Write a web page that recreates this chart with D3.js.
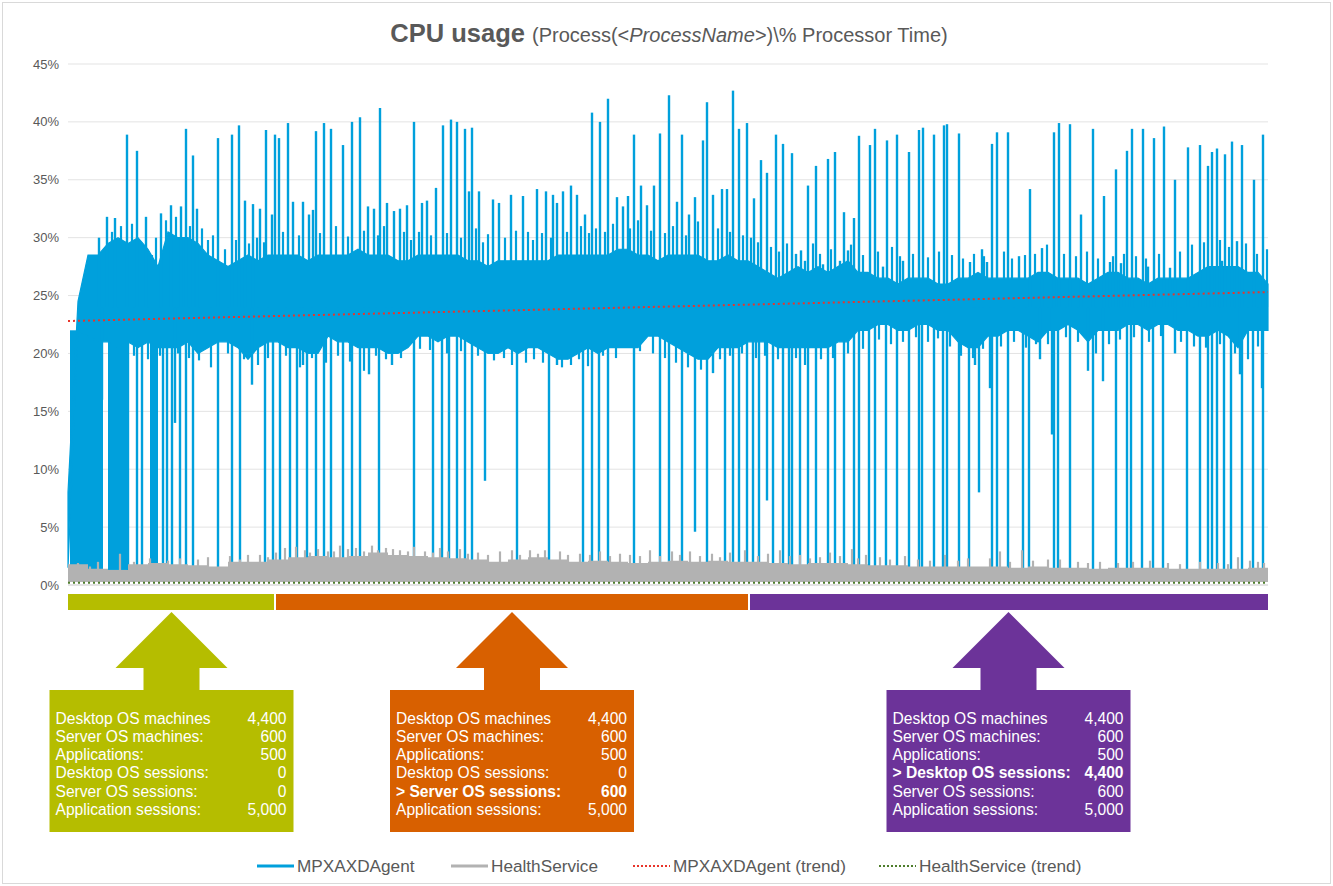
<!DOCTYPE html>
<html>
<head>
<meta charset="utf-8">
<script src="https://cdn.jsdelivr.net/npm/d3@7"></script>
<style>
  body { margin: 0; background: #fff; }
  svg text { font-family: "Liberation Sans", Arial, sans-serif; }
</style>
</head>
<body>
<div id="chart"></div>
<script>
// ---- data (x = sample index 0..1200, values in %) ----
const yTicks = [0, 5, 10, 15, 20, 25, 30, 35, 40, 45];

// dense part of the MPXAXDAgent trace, sampled every 10 samples
const bandHi = [8,24.5,28.5,28.5,29.5,30,29.5,30,29,27.5, 30.5,30,30,29.5,28.5,28,27.5,28,28.5,28,
  28.5,28.5,28.5,28.5,28,28.5,28.5,28.5,28.5,29, 28.5,28.5,28.5,28,28,28.5,28.5,28.5,28.5,28.5,
  28,28,27.5,28,28,28,28,28,28,28.5, 28.5,28.5,28.5,28.5,28.5,29,29,28.5,28.5,28,
  28.5,28.5,28.5,28.5,28,28,28.5,28,28,27.5, 27,26.5,27,27.5,27,27.5,27,27.5,28,27,
  27,26.5,26.5,26,26.5,26.5,26.5,26,26,26.5, 26.5,27,26.5,26.5,26.5,26.5,26.5,27,27,26.5,
  26.5,26.5,26,26.5,27,27,26.5,26.5,26,26.5, 26.5,26.5,26.5,27,27.5,27.5,27.5,27.5,27,27, 26];
const bandLo = [1.5,22,21.5,21,21,20.5,21,20.5,21,20.5, 20.5,20.5,21,20,20.5,21,21,20.5,19.5,20.5,
  21,21,20.5,20.5,20,20,21.5,21,21,20.5, 20.5,20.5,20,20,20.5,21.5,21.5,21,21.5,21.5,
  21,20.5,20,20,20.5,20,20.5,20.5,20,19.5, 19.5,20,20.5,20,20.5,20.5,20.5,20.5,21.5,21.5,
  21,20.5,20,19.5,19.5,20.5,20.5,20.5,21,21, 21,20.5,20.5,20.5,20.5,20.5,20.5,21,21,22,
  22,22.5,22.5,22,22,22.5,22.5,22,22,21, 20.5,20.5,21.5,21.5,22,22,21.5,21,22,22,
  22.5,22,21,22,22,22,22.5,22.5,22,22.5, 22.5,22,22,21.5,21.5,22,21.5,20.5,22,22, 22];

// stretches at the start where the trace fills down to the floor [from, to]
const floorBlocks = [[2, 35], [40, 60], [82, 90]];

// tall upward spikes [sample, value]
const upSpikes = [[31,30],[39,31.8],[47,31.7],[59,38.9],[69,37.5],[78,31.8],[93,32.1],[103,32.8],[113,32.7],[118,39.4],
  [125,37.1],[129,32.5],[150,38.6],[164,38.9],[171,39.7],[177,33.2],[185,32.9],[192,32.5],[198,39.3],[204,32],
  [207,38.9],[211,38.6],[220,39.9],[225,33.1],[235,33.1],[241,32],[245,32.4],[248,39.2],[256,39.9],[263,39.4],
  [275,38],[284,40],[292,40.4],[300,32.7],[306,32.5],[312,41.2],[319,33],[326,32.3],[332,32.5],[339,32.8],
  [346,40],[354,33],[359,33.2],[368,34.3],[375,39.7],[383,40.2],[389,40],[397,39.4],[401,34],[404,39.5],
  [411,34],[425,33.3],[431,33],[443,33.7],[455,33.6],[469,34.2],[478,34],[485,33.7],[489,33],[495,34],
  [503,34.5],[509,33.7],[517,32],[524,40.8],[532,40],[540,42],[549,33.5],[555,32.7],[560,33.6],[566,38.9],
  [573,34.5],[579,32.8],[586,34.5],[592,39],[601,42.3],[609,33.1],[614,38.9],[621,32],[627,33.5],[635,38.4],
  [639,41.7],[645,33.7],[654,34.2],[659,34.2],[665,42.7],[671,39.4],[679,39.9],[686,33.4],[693,36.7],[699,35.6],
  [708,38.9],[715,38.1],[724,37.3],[728,28.6],[733,28.9],[737,28],[740,34.5],[748,36.2],[755,27.7],[760,36.8],
  [767,37.4],[772,28],[776,32.2],[780,28.9],[786,31.7],[791,38.8],[802,38],[807,39.4],[815,27.5],[819,38.4],
  [829,38.9],[835,28],[841,37.4],[851,39.3],[855,39.5],[866,38.9],[876,39.7],[879,39.8],[891,39],[902,27.9],
  [914,29],[919,27.9],[924,38.1],[929,39.1],[940,39.1],[951,28.4],[962,34.2],[974,29.1],[986,39.1],[991,39.9],
  [1002,39.8],[1013,32],[1025,39.4],[1036,33.6],[1042,27.9],[1048,35.9],[1053,27.8],[1059,37.5],[1064,39.4],[1075,39.4],
  [1080,27.5],[1086,38.6],[1096,39.6],[1102,27.4],[1107,35],[1120,37.8],[1132,38],[1140,36.2],[1144,37.4],[1149,37.7],
  [1154,28],[1157,37.2],[1164,38.3],[1169,29.7],[1174,38],[1186,35],[1195,38.9]];

// small ragged peaks above the dense band [sample, value]
const upJags = [[44,30.5],[53,31],[64,31.2],[84,28.5],[88,30],[98,31.5],[108,31.8],[122,31],[134,30.8],[140,29.8],
  [145,30.2],[157,29],[168,29.8],[181,29.5],[189,30],[196,29.6],[215,30.5],[231,30.2],[252,30.4],[268,31],
  [280,30.1],[296,30.6],[310,30.2],[316,31],[336,30.5],[343,29.8],[351,30.5],[363,30.2],[379,30.4],[393,30],
  [408,30.8],[415,29.6],[420,30.3],[437,30],[448,30.6],[460,30.5],[465,29.8],[474,30.4],[483,30],[499,30.5],
  [513,31],[521,30.4],[528,30.8],[537,30.5],[545,31.2],[562,30.8],[570,31.5],[583,30.6],[597,30.4],[605,31],
  [618,30.2],[630,31.4],[650,30.8],[662,30.5],[675,30.2],[683,30],[690,29.6],[703,29.2],[711,28.8],[719,29.5],
  [745,29.5],[752,28.6],[763,29],[783,29.4],[795,28.5],[810,28.8],[824,29.2],[832,28.4],[845,28.6],[860,28.3],
  [871,28.8],[884,28.5],[895,28.2],[906,28.6],[916,28.4],[936,28.8],[944,28.2],[957,28.5],[967,28.6],[979,29.4],
  [996,28.6],[1008,28.4],[1019,28.8],[1030,28.2],[1045,28.4],[1056,28.6],[1068,28.4],[1078,28.2],[1091,28.6],[1112,28.8],
  [1124,29.4],[1136,29.6],[1152,29.8],[1161,29.2],[1178,29.5],[1189,28.6],[1199,29]];

// downward spikes and dips [sample, value]
const downSpikes = [[34,16],[60,1.2],[69,1.2],[74,1.2],[95,1.2],[99,1.2],[104,1.2],[107,14],[112,1.2],[118,1.2],
  [125,1.2],[150,1.2],[164,1.2],[172,1.2],[184,17.3],[197,1.2],[205,1.2],[212,1.2],[222,1.2],[229,1.2],
  [235,19],[239,1.2],[248,1.2],[256,1.2],[263,1.2],[275,1.2],[284,1.2],[292,1.2],[301,18.2],[311,1.2],
  [324,19],[346,1.2],[365,1.2],[374,1.2],[381,1.2],[389,1.2],[397,1.2],[404,1.2],[417,9],[449,1.2],
  [481,1.2],[489,19],[515,1.2],[524,1.2],[531,1.2],[540,1.2],[566,1.2],[592,1.2],[601,1.2],[614,1.2],
  [627,4.6],[639,1.2],[645,18.3],[657,1.2],[665,1.2],[671,1.2],[679,1.2],[685,1.2],[691,1.2],[699,7.3],
  [705,1.2],[715,1.2],[721,1.2],[724,1.2],[732,1.2],[740,1.2],[748,1.2],[760,1.2],[767,1.2],[776,1.2],
  [786,1.2],[791,1.2],[801,1.2],[807,1.2],[818,1.2],[829,1.2],[841,1.2],[851,1.2],[854,1.2],[866,1.2],
  [875,1.2],[879,1.2],[891,1.2],[901,1.2],[907,19],[911,8],[922,17],[924,1.2],[929,1.2],[940,1.2],
  [955,1.2],[961,1.2],[972,19.5],[984,13],[986,1.2],[990,1.2],[1002,1.2],[1020,18.5],[1025,1.2],[1035,17.6],
  [1048,1.2],[1059,1.2],[1063,1.2],[1074,1.2],[1085,1.2],[1095,1.2],[1107,20],[1119,1.2],[1132,1.2],[1140,1.2],
  [1144,1.2],[1149,1.2],[1156,1.2],[1163,1.2],[1172,18.2],[1174,1.2],[1185,1.2],[1194,17],[1195,1.2]];

// small ragged dips below the dense band [sample, value]
const downJags = [[45,19.5],[50,20],[66,19.8],[80,19.5],[92,19.8],[110,20],[121,19.6],[131,19.4],[143,18.8],[160,20],
  [176,19.5],[190,19],[200,19.6],[218,19.8],[232,18.8],[244,19.6],[258,19.2],[270,19.8],[282,19.3],[296,18.5],
  [308,19.8],[318,19.5],[333,19.6],[352,20.4],[362,20.3],[379,20],[393,20.2],[410,19.8],[426,19.4],[436,19.6],
  [444,19],[458,19.2],[466,19.5],[475,19.2],[494,18.8],[503,19],[511,19.5],[520,18.9],[535,19.8],[548,19.6],
  [558,20.5],[572,20.2],[585,20],[597,19.6],[608,19.2],[620,18.8],[633,18.6],[652,19.5],[662,19.8],[674,20],
  [688,19.6],[697,19.8],[710,19.5],[728,19.6],[737,19],[753,19.5],[765,19.6],[780,20],[795,20.4],[811,21.2],
  [823,20.8],[835,21],[848,21.4],[860,21],[870,21.3],[882,20.6],[893,19.8],[905,19.6],[915,20.4],[933,20.6],
  [946,21],[958,20.5],[968,20.8],[980,20.8],[998,21.4],[1010,21],[1028,20],[1041,20.8],[1052,21.2],[1066,21.4],
  [1081,21],[1093,21.5],[1113,21],[1126,20.6],[1138,20.5],[1152,20.8],[1167,20],[1180,19.5],[1190,20.6]];

// HealthService, top of the trace every 20 samples, plus its teeth
const healthHi = [1.8,1.4,1.3,1.8,1.9,1.8,1.7,1.6,2.0,2.0, 2.2,2.4,2.5,2.4,2.5,2.8,2.6,2.5,2.4,2.3,
  2.2,2.0,2.2,2.4,2.2,2.0,2.1,2.0,1.9,2.0, 2.1,2.0,2.1,2.0,2.0,1.9,1.8,1.9,1.9,1.8,
  1.7,1.7,1.6,1.6,1.6,1.6,1.6,1.5,1.6,1.5, 1.5,1.4,1.5,1.5,1.5,1.4,1.4,1.4,1.4,1.5, 1.3];
const healthSpikes = [[10,1.9],[22,1.6],[30,2.0],[52,2.7],[66,2.0],[82,2.3],[100,2.1],[112,2.3],[130,2.2],[140,2.4],
  [162,2.5],[172,2.2],[180,2.6],[192,2.6],[200,2.4],[208,2.8],[217,3.2],[228,3.3],[237,3.0],[242,2.8],
  [250,3.1],[260,2.9],[266,2.9],[272,3.4],[280,3.1],[288,3.2],[296,2.9],[304,3.4],[310,3.0],[318,3.2],
  [325,3.1],[332,3.0],[340,2.9],[346,3.3],[357,2.9],[365,2.8],[372,3.2],[380,2.9],[392,3.1],[400,2.7],
  [410,2.8],[420,2.6],[432,2.9],[444,3.0],[452,2.6],[462,3.0],[470,2.7],[477,3.0],[492,2.9],[500,2.6],
  [512,2.7],[522,2.6],[532,2.9],[542,2.5],[552,2.7],[562,2.6],[572,2.5],[582,3.0],[592,2.5],[604,2.9],
  [612,2.6],[622,2.9],[632,2.5],[644,2.7],[652,2.4],[662,2.8],[677,3.0],[690,2.5],[700,2.7],[712,3.0],
  [722,2.5],[732,2.6],[742,2.3],[752,2.4],[762,2.8],[772,2.5],[784,3.1],[790,2.3],[798,2.6],[812,2.4],
  [822,2.2],[837,2.5],[850,2.2],[862,2.1],[877,2.6],[890,2.1],[900,2.3],[922,2.3],[932,2.9],[942,2.0],
  [954,3.0],[965,2.1],[980,2.2],[992,2.2],[1010,2.0],[1020,1.9],[1032,2.0],[1050,1.9],[1065,2.0],[1082,2.1],
  [1100,1.9],[1112,1.8],[1132,2.0],[1150,1.9],[1160,1.8],[1170,2.4],[1182,2.1],[1190,2.0],[1196,1.9]];
const healthFloor = 0.25;

// linear trends [start, end]
const agentTrend = [22.8, 25.3];
const healthTrend = [0.2, 0.2];

// test phases
const phaseStart = [0, 207, 681];
const phaseEnd = [207, 681, 1200];
const phaseColors = ["#b5bd00", "#d86000", "#6c3399"];
const rowLabels = ["Desktop OS machines", "Server OS machines:", "Applications:",
  "Desktop OS sessions:", "Server OS sessions:", "Application sessions:"];
const phaseValues = [
  [4400, 600, 500, 0, 0, 5000],
  [4400, 600, 500, 0, 600, 5000],
  [4400, 600, 500, 4400, 600, 5000]
];
const phaseHighlight = [-1, 4, 3];

const seriesNames = ["MPXAXDAgent", "HealthService", "MPXAXDAgent (trend)", "HealthService (trend)"];

// ---- drawing ----
const width = 1333, height = 886;
const blue = "#00a0dc", grey = "#b2b2b2", textCol = "#595959";

const svg = d3.select("#chart").append("svg")
  .attr("width", width).attr("height", height);

svg.append("rect").attr("x", 2.5).attr("y", 2.5)
  .attr("width", width - 5).attr("height", height - 5)
  .attr("fill", "#fff").attr("stroke", "#d9d9d9");

const x = d3.scaleLinear().domain([0, 1200]).range([68, 1268]);
const y = d3.scaleLinear().domain([0, 45]).range([585, 64]);

// title
const title = svg.append("text").attr("x", 669).attr("y", 42)
  .attr("text-anchor", "middle").attr("fill", textCol);
title.append("tspan").attr("font-weight", "bold").attr("font-size", 25.5).text("CPU usage ");
title.append("tspan").attr("font-size", 20).text("(Process(<");
title.append("tspan").attr("font-size", 20).attr("font-style", "italic").text("ProcessName");
title.append("tspan").attr("font-size", 20).text(">)\\% Processor Time)");

// gridlines + y labels
svg.append("g").selectAll("line").data(yTicks.filter(d => d > 0)).enter().append("line")
  .attr("x1", x(0)).attr("x2", x(1200))
  .attr("y1", d => y(d)).attr("y2", d => y(d))
  .attr("stroke", "#e3e3e3").attr("stroke-width", 1);

svg.append("g").selectAll("text").data(yTicks).enter().append("text")
  .attr("x", 59).attr("y", d => y(d) + 4.5)
  .attr("text-anchor", "end").attr("font-size", 13).attr("fill", textCol)
  .text(d => d + "%");

const plot = svg.append("g");

// MPXAXDAgent
const bandX = d3.range(0, 1201, 10);
const band = bandX.map((s, i) => ({ s: s, hi: bandHi[i], lo: bandLo[i] }));

plot.selectAll(".block").data(floorBlocks).enter().append("rect")
  .attr("class", "block")
  .attr("x", d => x(d[0])).attr("width", d => x(d[1]) - x(d[0]))
  .attr("y", y(22)).attr("height", y(1.3) - y(22))
  .attr("fill", blue);

plot.append("path").datum(band)
  .attr("d", d3.area().x(d => x(d.s)).y0(d => y(d.lo)).y1(d => y(d.hi)))
  .attr("fill", blue).attr("stroke", blue).attr("stroke-width", 1.2);

const spikeBase = 24;
function spikes(cls, data, w) {
  plot.selectAll("." + cls).data(data).enter().append("line")
    .attr("class", cls)
    .attr("x1", d => x(d[0])).attr("x2", d => x(d[0]))
    .attr("y1", y(spikeBase)).attr("y2", d => y(d[1]))
    .attr("stroke", blue).attr("stroke-width", w);
}
spikes("ujag", upJags, 2.2);
spikes("djag", downJags, 2.2);
spikes("up", upSpikes, 2.4);
spikes("down", downSpikes, 2.4);

// HealthService
const healthX = d3.range(0, 1201, 20);
const health = healthX.map((s, i) => ({ s: s, v: healthHi[i] }));
plot.append("path").datum(health)
  .attr("d", d3.area().x(d => x(d.s)).y0(y(healthFloor)).y1(d => y(d.v)).curve(d3.curveStepAfter))
  .attr("fill", grey);
plot.selectAll(".hs").data(healthSpikes).enter().append("line")
  .attr("class", "hs")
  .attr("x1", d => x(d[0])).attr("x2", d => x(d[0]))
  .attr("y1", y(healthFloor)).attr("y2", d => y(d[1]))
  .attr("stroke", grey).attr("stroke-width", 2.2);

// axis line
svg.append("line").attr("x1", x(0)).attr("x2", x(1200))
  .attr("y1", y(0)).attr("y2", y(0))
  .attr("stroke", "#c8c8c8").attr("stroke-width", 1.2);

// trends
const trendLine = d3.line().x(d => x(d[0])).y(d => y(d[1]));
svg.append("path").datum([[0, agentTrend[0]], [1200, agentTrend[1]]])
  .attr("d", trendLine).attr("fill", "none")
  .attr("stroke", "#e8352b").attr("stroke-width", 2).attr("stroke-dasharray", "2,3");
svg.append("path").datum([[0, healthTrend[0]], [1200, healthTrend[1]]])
  .attr("d", trendLine).attr("fill", "none")
  .attr("stroke", "#4e7d2b").attr("stroke-width", 2).attr("stroke-dasharray", "2,3");

// phase bars
const phases = phaseStart.map((s, i) => ({ s: s, e: phaseEnd[i], c: phaseColors[i], v: phaseValues[i], h: phaseHighlight[i] }));
svg.selectAll(".phase").data(phases).enter().append("rect")
  .attr("class", "phase")
  .attr("x", (d, i) => x(d.s) + (i > 0 ? 1 : 0))
  .attr("width", (d, i) => x(d.e) - x(d.s) - (i > 0 ? 1 : 0) - (i < 2 ? 1 : 0))
  .attr("y", 594).attr("height", 16)
  .attr("fill", d => d.c);

// arrows + boxes
const boxW = 244, tipY = 612, baseY = 668, stemY = 690, boxB = 832;
phases.forEach(d => {
  const cx = (x(d.s) + x(d.e)) / 2;
  const bl = cx - boxW / 2, br = cx + boxW / 2;
  const pts = [[cx, tipY], [cx + 56, baseY], [cx + 28, baseY], [cx + 28, stemY], [br, stemY], [br, boxB],
    [bl, boxB], [bl, stemY], [cx - 28, stemY], [cx - 28, baseY], [cx - 56, baseY]];
  svg.append("path").attr("d", "M" + pts.join("L") + "Z").attr("fill", d.c);

  const g = svg.append("g");
  rowLabels.forEach((lab, i) => {
    const bold = i === d.h;
    g.append("text").attr("x", bl + 6).attr("y", 723.5 + i * 18.3)
      .attr("font-size", 15.6).attr("fill", "#fff")
      .attr("font-weight", bold ? "bold" : "normal")
      .text(bold ? "> " + lab : lab);
    g.append("text").attr("x", br - 7).attr("y", 723.5 + i * 18.3)
      .attr("text-anchor", "end").attr("font-size", 15.6).attr("fill", "#fff")
      .attr("font-weight", bold ? "bold" : "normal")
      .text(d3.format(",")(d.v[i]));
  });
});

// legend
const legendX = [257, 451, 633, 879];
const legendStyle = [
  { c: blue, dash: null, w: 3 },
  { c: grey, dash: null, w: 3 },
  { c: "#e8352b", dash: "2,2", w: 2 },
  { c: "#4e7d2b", dash: "2,2", w: 2 }
];
const lg = svg.append("g");
seriesNames.forEach((name, i) => {
  const lx = legendX[i], st = legendStyle[i];
  lg.append("line").attr("x1", lx).attr("x2", lx + 37).attr("y1", 866).attr("y2", 866)
    .attr("stroke", st.c).attr("stroke-width", st.w)
    .attr("stroke-dasharray", st.dash);
  lg.append("text").attr("x", lx + 40).attr("y", 872)
    .attr("font-size", 17.2).attr("fill", textCol).text(name);
});
</script>
</body>
</html>
